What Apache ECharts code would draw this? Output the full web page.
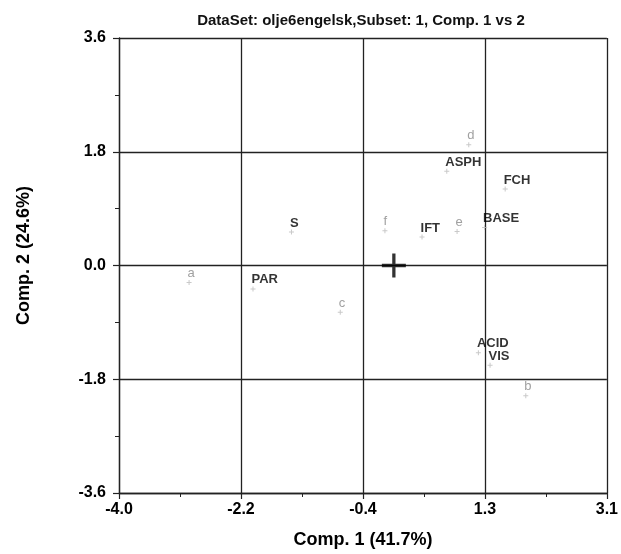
<!DOCTYPE html>
<html>
<head>
<meta charset="utf-8">
<script src="https://cdn.jsdelivr.net/npm/echarts@6/dist/echarts.min.js"></script>
<style>
  html, body { margin: 0; padding: 0; background: #fff; }
  #chart { width: 621px; height: 554px; }
</style>
</head>
<body>
<div id="chart"></div>
<script>
// variables (loadings) - bold black labels
var varNames = ['PAR', 'S', 'IFT', 'ASPH', 'FCH', 'BASE', 'ACID', 'VIS'];
var varX = [-2.05, -1.49, 0.41, 0.77, 1.62, 1.32, 1.23, 1.40];
var varY = [-0.37, 0.53, 0.45, 1.49, 1.21, 0.60, -1.38, -1.58];

// objects (scores) - grey labels
var objNames = ['a', 'b', 'c', 'd', 'e', 'f'];
var objX = [-2.98, 1.92, -0.78, 1.09, 0.92, -0.13];
var objY = [-0.27, -2.06, -0.74, 1.91, 0.54, 0.55];

// axis tick labels
var xTickLabels = ['-4.0', '-2.2', '-0.4', '1.3', '3.1'];
var yTickLabels = ['-3.6', '-1.8', '0.0', '1.8', '3.6'];

var xMin = -4.0, xMax = 3.1, xStep = (3.1 - -4.0) / 4;
var yMin = -3.6, yMax = 3.6, yStep = 1.8;

var plusPath = 'path://M4,0h2v4h4v2h-4v4h-2v-4h-4v-2h4z';
var bigPlus = 'path://M9.5,0h3v9.5h9.5v3h-9.5v9.5h-3v-9.5h-9.5v-3h9.5z';

var fontFam = '"Liberation Sans", Arial, sans-serif';

function tickLabel(arr, min, step) {
  return function (v) {
    var i = Math.round((v - min) / step);
    return arr[i] !== undefined ? arr[i] : '';
  };
}

var chart = echarts.init(document.getElementById('chart'));

var option = {
  backgroundColor: '#fff',
  animation: false,
  title: {
    text: 'DataSet: olje6engelsk,Subset: 1, Comp. 1 vs 2',
    left: 356,
    textAlign: 'center',
    top: 8,
    textStyle: { fontFamily: fontFam, fontSize: 15, fontWeight: 'bold', color: '#111' }
  },
  grid: { left: 119, right: 14, top: 38, bottom: 60 },
  xAxis: {
    type: 'value',
    min: xMin, max: xMax, interval: xStep,
    name: 'Comp. 1 (41.7%)',
    nameLocation: 'middle',
    nameGap: 38,
    nameTextStyle: { fontFamily: fontFam, fontSize: 18, fontWeight: 'bold', color: '#000' },
    axisLine: { show: true, onZero: false, lineStyle: { color: '#222', width: 1.3 } },
    axisTick: { show: true, length: 6, lineStyle: { color: '#222', width: 1.2 } },
    minorTick: { show: true, splitNumber: 2, length: 4, lineStyle: { color: '#222' } },
    axisLabel: {
      formatter: tickLabel(xTickLabels, xMin, xStep),
      fontFamily: fontFam, fontSize: 16, fontWeight: 'bold', color: '#000', margin: 9
    },
    splitLine: { show: true, lineStyle: { color: '#222', width: 1.3 } }
  },
  yAxis: {
    type: 'value',
    min: yMin, max: yMax, interval: yStep,
    name: 'Comp. 2 (24.6%)',
    nameLocation: 'middle',
    nameGap: 86,
    nameTextStyle: { fontFamily: fontFam, fontSize: 18, fontWeight: 'bold', color: '#000', padding: [0, 0, 0, 20] },
    axisLine: { show: true, onZero: false, lineStyle: { color: '#222', width: 1.3 } },
    axisTick: { show: true, length: 6, lineStyle: { color: '#222', width: 1.2 } },
    minorTick: { show: true, splitNumber: 2, length: 4, lineStyle: { color: '#222' } },
    axisLabel: {
      formatter: tickLabel(yTickLabels, yMin, yStep),
      fontFamily: fontFam, fontSize: 16, fontWeight: 'bold', color: '#000', margin: 13
    },
    splitLine: { show: true, lineStyle: { color: '#222', width: 1.3 } }
  },
  series: [
    {
      name: 'variables',
      type: 'scatter',
      symbol: plusPath,
      symbolSize: 5,
      itemStyle: { color: '#bbb' },
      label: {
        show: true,
        formatter: '{b}',
        position: [1, 0],
        align: 'left',
        verticalAlign: 'bottom',
        fontFamily: fontFam, fontSize: 13, fontWeight: 'bold', color: '#000'
      },
      data: varNames.map(function (n, i) { return { name: n, value: [varX[i], varY[i]] }; })
    },
    {
      name: 'objects',
      type: 'scatter',
      symbol: plusPath,
      symbolSize: 5,
      itemStyle: { color: '#bbb' },
      label: {
        show: true,
        formatter: '{b}',
        position: [1, 0],
        align: 'left',
        verticalAlign: 'bottom',
        fontFamily: fontFam, fontSize: 13, color: '#888'
      },
      data: objNames.map(function (n, i) { return { name: n, value: [objX[i], objY[i]] }; })
    },
    {
      name: 'origin',
      type: 'scatter',
      symbol: bigPlus,
      symbolSize: 24,
      itemStyle: { color: '#000' },
      data: [[0, 0]]
    }
  ]
};

chart.setOption(option);
</script>
</body>
</html>
